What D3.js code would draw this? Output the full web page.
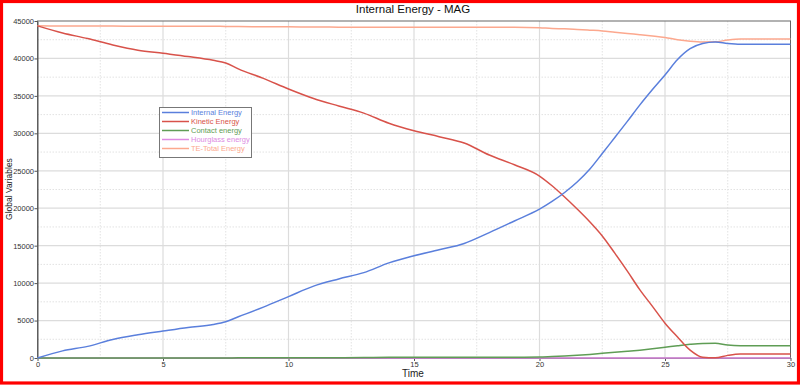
<!DOCTYPE html>
<html>
<head>
<meta charset="utf-8">
<script src="https://cdn.jsdelivr.net/npm/d3@7/dist/d3.min.js"></script>
<style>
html,body{margin:0;padding:0;background:#fff;}
svg{display:block;}
text{font-family:"Liberation Sans","DejaVu Sans",sans-serif;}
</style>
</head>
<body>
<svg id="chart" width="800" height="385"></svg>
<script>
const title = "Internal Energy - MAG";
const xLabel = "Time";
const yLabel = "Global Variables";
const seriesNames = ["Internal Energy","Kinetic Energy","Contact energy","Hourglass energy","TE-Total Energy"];
const seriesColors = ["#5a7fdc","#d8524a","#5f9d55","#dd8be2","#fca88e"];
const time = [0,1,2,3,4,5,6,7,7.5,8,9,10,11,12,13,14,15,16,17,18,19,20,20.5,21,21.5,22,22.5,23,23.5,24,24.5,25,25.5,26,26.5,27,27.5,28,29,30];
const internalEnergy = [0,950,1550,2480,3100,3600,4080,4480,4850,5500,6800,8200,9600,10550,11400,12700,13650,14450,15300,16750,18300,19870,20900,22100,23500,25200,27300,29450,31600,33800,35850,37800,39850,41300,42000,42200,42000,41900,41900,41900];
const kineticEnergy = [44350,43400,42650,41800,41100,40680,40250,39750,39400,38600,37340,35920,34650,33650,32700,31350,30350,29550,28700,27100,25800,24300,23000,21500,19900,18200,16300,14000,11600,9100,6900,4650,2800,1050,100,20,350,530,530,530];
const contactEnergy = [0,0,0,0,0,0,0,0,0,30,30,30,30,30,60,100,100,100,100,100,100,120,200,280,370,480,620,760,900,1050,1230,1430,1640,1830,1950,1970,1720,1640,1640,1640];
const hourglassEnergy = [0,0,0,0,0,0,0,0,0,0,0,0,0,0,0,0,0,0,0,0,0,0,0,0,0,0,0,0,0,0,0,0,0,0,0,0,0,0,0,0];
const totalEnergy = [44350,44340,44330,44320,44310,44300,44300,44290,44280,44250,44230,44220,44200,44180,44180,44180,44180,44180,44180,44180,44180,44100,44000,43950,43870,43780,43680,43500,43330,43170,43000,42800,42500,42300,42200,42220,42450,42580,42600,42600];
const xTicks = [0,5,10,15,20,25,30];
const yTicks = [0,5000,10000,15000,20000,25000,30000,35000,40000,45000];

const seriesValues = [internalEnergy,kineticEnergy,contactEnergy,hourglassEnergy,totalEnergy];

(function(){
const svg = d3.select("#chart");
const W = 800, H = 385;
const pL = 37.5, pR = 790.5, pT = 21, pB = 358;

svg.append("rect").attr("x",1.5).attr("y",1.5).attr("width",W-3).attr("height",H-3.5)
  .attr("fill","none").attr("stroke","#ff0000").attr("stroke-width",3.2);

const x = d3.scaleLinear().domain([0,30]).range([pL,pR]);
const y = d3.scaleLinear().domain([0,45000]).range([pB,pT]);

const grid = svg.append("g");
const xMinor = d3.range(2.5,30,5);
const yMinor = d3.range(2500,45000,5000);
grid.selectAll(".xm").data(xMinor).enter().append("line")
  .attr("x1",d=>x(d)).attr("x2",d=>x(d)).attr("y1",pT).attr("y2",pB)
  .attr("stroke","#e2e2e2").attr("stroke-width",1).attr("stroke-dasharray","1.5,1.5");
grid.selectAll(".ym").data(yMinor).enter().append("line")
  .attr("x1",pL).attr("x2",pR).attr("y1",d=>y(d)).attr("y2",d=>y(d))
  .attr("stroke","#e2e2e2").attr("stroke-width",1).attr("stroke-dasharray","1.5,1.5");
grid.selectAll(".xM").data(xTicks.slice(1,-1)).enter().append("line")
  .attr("x1",d=>x(d)).attr("x2",d=>x(d)).attr("y1",pT).attr("y2",pB)
  .attr("stroke","#dcdcdc").attr("stroke-width",1.2);
grid.selectAll(".yM").data(yTicks.slice(1,-1)).enter().append("line")
  .attr("x1",pL).attr("x2",pR).attr("y1",d=>y(d)).attr("y2",d=>y(d))
  .attr("stroke","#dcdcdc").attr("stroke-width",1.2);

svg.append("rect").attr("x",pL).attr("y",pT).attr("width",pR-pL).attr("height",pB-pT)
  .attr("fill","none").attr("stroke","#666").attr("stroke-width",1);

const xAxis = svg.append("g").attr("transform",`translate(0,${pB})`)
  .call(d3.axisBottom(x).tickValues(xTicks).tickSize(3).tickSizeOuter(0).tickFormat(d3.format("d")));
const yAxis = svg.append("g").attr("transform",`translate(${pL},0)`)
  .call(d3.axisLeft(y).tickValues(yTicks).tickSize(3).tickSizeOuter(0).tickFormat(d3.format("d")));
[xAxis,yAxis].forEach(g=>{
  g.select(".domain").attr("stroke","#555");
  g.selectAll(".tick line").attr("stroke","#555");
  g.selectAll(".tick text").attr("fill","#333").style("font-size","7.5px");
});
yAxis.selectAll(".tick text").attr("x",-3.5);
xAxis.selectAll(".tick text").attr("y",4);

const line = d3.line().x((d,i)=>x(time[i])).y(d=>y(d)).curve(d3.curveMonotoneX);
[4,3,2,1,0].forEach(k=>{
  svg.append("path").datum(seriesValues[k]).attr("d",line)
    .attr("fill","none").attr("stroke",seriesColors[k]).attr("stroke-width",1.5);
});

svg.append("text").attr("x",413).attr("y",13).attr("text-anchor","middle")
  .attr("fill","#111").style("font-size","11.5px").text(title);
svg.append("text").attr("x",413).attr("y",377).attr("text-anchor","middle")
  .attr("fill","#222").style("font-size","10px").text(xLabel);
svg.append("text").attr("transform","translate(12,189) rotate(-90)").attr("text-anchor","middle")
  .attr("fill","#222").style("font-size","8.5px").text(yLabel);

const lg = svg.append("g");
lg.append("rect").attr("x",159.5).attr("y",107.5).attr("width",92).attr("height",50)
  .attr("fill","#fff").attr("stroke","#777").attr("stroke-width",1);
seriesNames.forEach((n,i)=>{
  const yy = 112.5 + i*9;
  lg.append("line").attr("x1",162).attr("x2",189).attr("y1",yy).attr("y2",yy)
    .attr("stroke",seriesColors[i]).attr("stroke-width",1.5);
  lg.append("text").attr("x",191).attr("y",yy+2.6).attr("fill",seriesColors[i])
    .style("font-size","7.5px").text(n);
});
})();
</script>
</body>
</html>
